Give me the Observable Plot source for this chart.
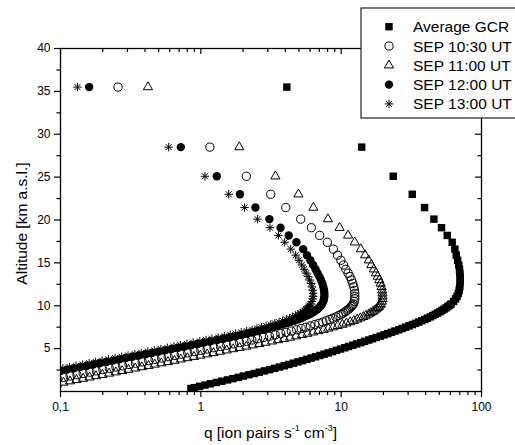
<!DOCTYPE html>
<html><head><meta charset="utf-8">
<script src="https://cdn.jsdelivr.net/npm/d3@7"></script>
<script src="https://cdn.jsdelivr.net/npm/@observablehq/plot@0.6"></script>
<style>
html,body{margin:0;padding:0;background:#fff;overflow:hidden;}
#chart{position:relative;width:515px;height:445px;}
</style></head><body><div id="chart"></div>
<script>
// Altitude levels (km a.s.l.), shared by all series
const altitude = [
35.5, 28.5, 25.1, 23.0, 21.45, 20.1, 19.1, 18.2, 17.4, 16.6,
15.9, 15.3, 14.75, 14.25, 13.8, 13.4, 13.0, 12.6, 12.2, 11.8,
11.45, 11.1, 10.8, 10.5, 10.2, 10.05, 9.9, 9.75, 9.6, 9.45,
9.3, 9.15, 9.0, 8.85, 8.7, 8.55, 8.4, 8.25, 8.1, 7.95,
7.8, 7.65, 7.5, 7.35, 7.2, 7.05, 6.9, 6.75, 6.6, 6.45,
6.3, 6.15, 6.0,
5.85, 5.7, 5.55, 5.4, 5.25, 5.1, 4.95, 4.8, 4.65, 4.5,
4.35, 4.2, 4.05, 3.9, 3.75, 3.6, 3.45, 3.3, 3.15, 3.0,
2.85, 2.7, 2.55, 2.4, 2.25, 2.1, 1.95, 1.8, 1.65, 1.5,
1.35, 1.2, 1.05, 0.9, 0.75, 0.6, 0.45, 0.35
];
// q [ion pairs s^-1 cm^-3]
const gcr = [
4.1, 14.0, 23.5, 32.1, 39.3, 45.8, 51.9, 57.0, 61.8, 64.6,
66.1, 67.6, 68.9, 69.7, 70.1, 70.5, 70.5, 70.3, 70.0, 69.3,
68.4, 67.0, 65.3, 63.2, 60.7, 59.1, 57.5, 55.8, 54.1, 52.3,
50.5, 48.6, 46.8, 44.9, 43.1, 41.2, 39.4, 37.5, 35.7, 33.9,
32.2, 30.4, 28.8, 27.2, 25.7, 24.2, 22.8, 21.5, 20.2, 19.0,
17.8, 16.7, 15.7,
14.7, 13.8, 12.9, 12.1, 11.3, 10.6, 9.91, 9.27, 8.67, 8.09,
7.55, 7.05, 6.56, 6.11, 5.69, 5.30, 4.92, 4.57, 4.24, 3.93,
3.63, 3.35, 3.09, 2.84, 2.61, 2.40, 2.20, 2.01, 1.85, 1.69,
1.55, 1.41, 1.29, 1.17, 1.07, 0.98, 0.90, 0.85
];
const sep1030 = [
0.257, 1.16, 2.11, 3.15, 4.03, 5.15, 6.13, 7.03, 7.97, 8.80,
9.42, 9.95, 10.4, 10.8, 11.2, 11.55, 11.85, 12.1, 12.3, 12.45,
12.5, 12.5, 12.5, 12.4, 12.2, 12.0, 11.8, 11.55, 11.3, 11.0,
10.7, 10.35, 10.0, 9.58, 9.17, 8.72, 8.30, 7.84, 7.40, 6.94,
6.50, 6.04, 5.61, 5.19, 4.81, 4.41, 4.05, 3.71, 3.39, 3.08,
2.80, 2.54, 2.31,
2.11, 1.89, 1.71, 1.53, 1.38, 1.24, 1.11, 0.999, 0.898, 0.806,
0.725, 0.650, 0.585, 0.526, 0.472, 0.425, 0.382, 0.342, 0.308, 0.277,
0.248, 0.223, 0.200, 0.180, 0.162, 0.145, 0.131, 0.117, 0.105, 0.0947,
null, null, null, null, null, null, null, null
];
const sep1100 = [
0.42, 1.88, 3.40, 4.96, 6.34, 8.05, 9.75, 11.2, 12.5, 13.8,
14.8, 15.7, 16.4, 17.1, 17.7, 18.2, 18.7, 19.1, 19.4, 19.6,
19.7, 19.7, 19.7, 19.5, 19.2, 18.9, 18.6, 18.2, 17.8, 17.3,
16.8, 16.2, 15.7, 15.0, 14.4, 13.7, 13.0, 12.3, 11.6, 10.9,
10.2, 9.45, 8.76, 8.10, 7.49, 6.87, 6.30, 5.76, 5.26, 4.77,
4.32, 3.92, 3.55,
3.22, 2.89, 2.61, 2.34, 2.11, 1.89, 1.70, 1.53, 1.37, 1.23,
1.11, 0.993, 0.894, 0.803, 0.721, 0.649, 0.583, 0.523, 0.470, 0.424,
0.380, 0.341, 0.305, 0.275, 0.248, 0.222, 0.199, 0.179, 0.161, 0.145,
0.130, 0.117, 0.105, 0.0943, null, null, null, null
];
const sep1200 = [
0.160, 0.72, 1.30, 1.90, 2.45, 3.08, 3.70, 4.23, 4.80, 5.36,
5.71, 6.03, 6.31, 6.56, 6.79, 7.00, 7.18, 7.35, 7.46, 7.55,
7.59, 7.59, 7.55, 7.46, 7.31, 7.20, 7.08, 6.92, 6.76, 6.57,
6.38, 6.16, 5.94, 5.68, 5.43, 5.16, 4.90, 4.62, 4.35, 4.07,
3.80, 3.53, 3.27, 3.02, 2.79, 2.56, 2.34, 2.14, 1.95, 1.77,
1.60, 1.45, 1.31,
1.17, 1.05, 0.948, 0.851, 0.766, 0.687, 0.618, 0.555, 0.499, 0.448,
0.403, 0.361, 0.325, 0.292, 0.262, 0.236, 0.212, 0.190, 0.171, 0.154,
0.138, 0.124, 0.111, 0.100, 0.090, null, null, null, null, null,
null, null, null, null, null, null, null, null
];
const sep1300 = [
0.132, 0.59, 1.07, 1.58, 2.05, 2.53, 3.11, 3.57, 3.96, 4.37,
4.74, 5.00, 5.24, 5.44, 5.64, 5.81, 5.96, 6.10, 6.19, 6.27,
6.30, 6.30, 6.27, 6.19, 6.07, 5.97, 5.88, 5.74, 5.61, 5.45,
5.30, 5.11, 4.93, 4.72, 4.51, 4.28, 4.07, 3.83, 3.61, 3.37,
3.15, 2.92, 2.71, 2.51, 2.32, 2.12, 1.94, 1.77, 1.62, 1.47,
1.33, 1.20, 1.09,
0.983, 0.882, 0.796, 0.715, 0.643, 0.577, 0.519, 0.466, 0.419, 0.376,
0.339, 0.303, 0.273, 0.245, 0.220, 0.198, 0.178, 0.160, 0.144, 0.129,
0.116, 0.104, 0.093, null, null, null, null, null, null, null,
null, null, null, null, null, null, null, null
];
const seriesNames = ["Average GCR", "SEP 10:30 UT", "SEP 11:00 UT", "SEP 12:00 UT", "SEP 13:00 UT"];
const xMajor = [0.1, 1, 10, 100];
const xMajorLabels = ["0,1", "1", "10", "100"];
const xMinor = [0.2,0.3,0.4,0.5,0.6,0.7,0.8,0.9,2,3,4,5,6,7,8,9,20,30,40,50,60,70,80,90];
const yMajor = [5, 10, 15, 20, 25, 30, 35, 40];
const yMinor = [2.5, 7.5, 12.5, 17.5, 22.5, 27.5, 32.5, 37.5];

const W = 515, H = 445, mL = 60, mR = 34, mT = 48, mB = 54;
const plotW = W - mL - mR, plotH = H - mT - mB;
const font = "'Liberation Sans', Arial, Helvetica, sans-serif";

const rows = arr => altitude.map((a, i) => ({alt: a, q: arr[i]})).filter(d => d.q != null);

const star8 = {
  draw(ctx, size) {
    const r = Math.sqrt(size / Math.PI) * 1.05;
    const d = r * Math.SQRT1_2;
    ctx.moveTo(0, -r); ctx.lineTo(0, r);
    ctx.moveTo(-r, 0); ctx.lineTo(r, 0);
    ctx.moveTo(-d, -d); ctx.lineTo(d, d);
    ctx.moveTo(-d, d); ctx.lineTo(d, -d);
  }
};

const labelMap = new Map(xMajor.map((v, i) => [v, xMajorLabels[i]]));
const blank = () => "";
const tk = {label: null, stroke: "black", strokeWidth: 1.2};

const chart = Plot.plot({
  width: W, height: H,
  marginLeft: mL, marginRight: mR, marginTop: mT, marginBottom: mB,
  style: {fontFamily: font, fontSize: "12px", color: "black", background: "white"},
  x: {type: "log", domain: [0.1, 100], label: null},
  y: {domain: [0, 40], label: null},
  marks: [
    Plot.dot(rows(gcr), {x: "q", y: "alt", symbol: "square", r: 4.2, fill: "black", stroke: "none", clip: true}),
    Plot.dot(rows(sep1030), {x: "q", y: "alt", symbol: "circle", r: 4.1, fill: "none", stroke: "black", strokeWidth: 1, clip: true}),
    Plot.dot(rows(sep1100), {x: "q", y: "alt", symbol: "triangle", r: 3.4, fill: "none", stroke: "black", strokeWidth: 1, clip: true}),
    Plot.dot(rows(sep1200), {x: "q", y: "alt", symbol: "circle", r: 4.2, fill: "black", stroke: "none", clip: true}),
    Plot.dot(rows(sep1300), {x: "q", y: "alt", symbol: star8, r: 4, fill: "none", stroke: "black", strokeWidth: 1, clip: true}),
    Plot.axisX(xMajor, {...tk, anchor: "bottom", tickSize: 6, tickPadding: 5, tickFormat: d => labelMap.get(d), fontSize: 12}),
    Plot.axisX(xMinor, {...tk, anchor: "bottom", tickSize: 4, tickFormat: blank}),
    Plot.axisX(xMajor, {...tk, anchor: "bottom", tickSize: 6, dy: -plotH, tickFormat: blank}),
    Plot.axisX(xMinor, {...tk, anchor: "bottom", tickSize: 4, dy: -plotH, tickFormat: blank}),
    Plot.axisY(yMajor, {...tk, anchor: "left", tickSize: 6, tickPadding: 4, fontSize: 12}),
    Plot.axisY(yMinor, {...tk, anchor: "left", tickSize: 3.5, tickFormat: blank}),
    Plot.axisY(yMajor, {...tk, anchor: "left", tickSize: 6, dx: plotW, tickFormat: blank}),
    Plot.axisY(yMinor, {...tk, anchor: "left", tickSize: 3.5, dx: plotW, tickFormat: blank}),
    Plot.frame({stroke: "black", strokeWidth: 1.3})
  ]
});
document.getElementById("chart").appendChild(chart);

const svg = d3.select(chart);
// axis titles
svg.append("text")
  .attr("transform", `translate(21,${mT + plotH / 2 + 4}) rotate(-90)`)
  .attr("text-anchor", "middle").attr("dominant-baseline", "central")
  .attr("font-family", font).attr("font-size", 15.5).attr("fill", "black")
  .text("Altitude [km a.s.l.]");
const xt = svg.append("text")
  .attr("x", mL + plotW / 2).attr("y", 438)
  .attr("text-anchor", "middle")
  .attr("font-family", font).attr("font-size", 15.5).attr("fill", "black");
xt.append("tspan").text("q [ion pairs s");
xt.append("tspan").attr("font-size", 9).attr("dy", -7).text("-1");
xt.append("tspan").attr("dy", 7).text(" cm");
xt.append("tspan").attr("font-size", 9).attr("dy", -7).text("-3");
xt.append("tspan").attr("dy", 7).text("]");

// legend
const lg = svg.append("g");
lg.append("rect").attr("x", 361).attr("y", 8).attr("width", 180).attr("height", 110)
  .attr("fill", "white").attr("stroke", "#222").attr("stroke-width", 1.2);
const legendSyms = [
  {type: d3.symbolSquare, r: 4.2, fill: "black", stroke: "none"},
  {type: d3.symbolCircle, r: 4.1, fill: "none", stroke: "black"},
  {type: d3.symbolTriangle, r: 3.4, fill: "none", stroke: "black"},
  {type: d3.symbolCircle, r: 4.2, fill: "black", stroke: "none"},
  {type: star8, r: 4, fill: "none", stroke: "black"}
];
seriesNames.forEach((name, i) => {
  const cy = 26.7 + i * 19.3;
  const s = legendSyms[i];
  lg.append("path")
    .attr("transform", `translate(389,${cy})`)
    .attr("d", d3.symbol(s.type, s.r * s.r * Math.PI)())
    .attr("fill", s.fill).attr("stroke", s.stroke).attr("stroke-width", 1);
  lg.append("text").attr("x", 413).attr("y", cy + 5.5)
    .attr("text-anchor", "start")
    .attr("font-family", font).attr("font-size", 15.5).attr("fill", "black")
    .text(name);
});
</script></body></html>
